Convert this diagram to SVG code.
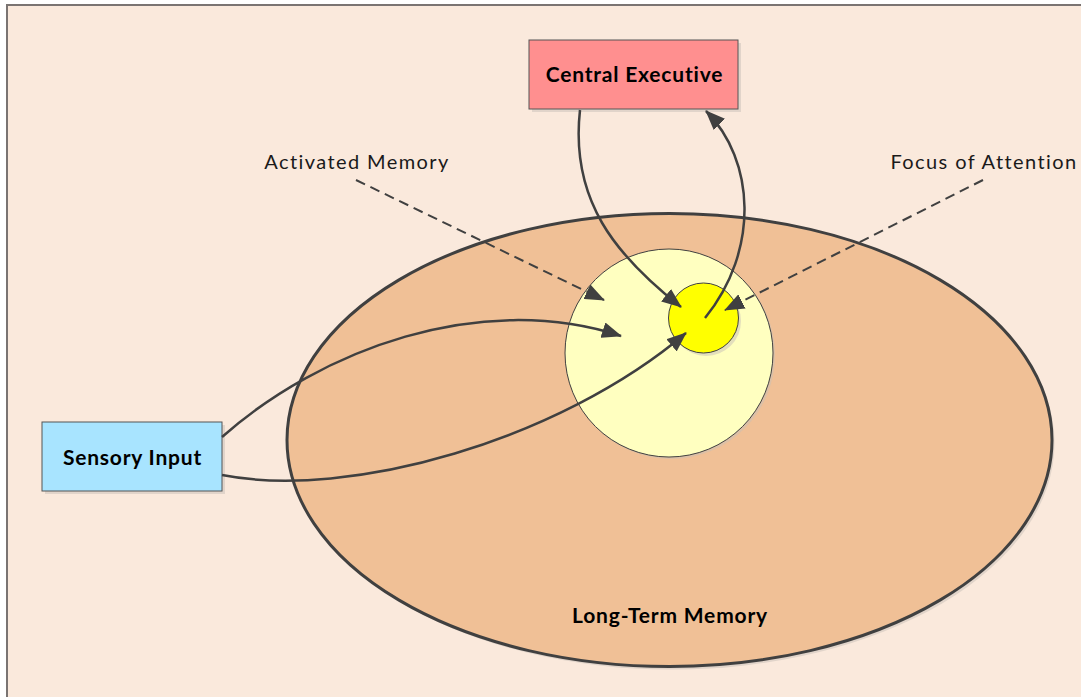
<svg xmlns="http://www.w3.org/2000/svg" width="1081" height="697" viewBox="0 0 1081 697">
  <defs>
    <marker id="arr" markerUnits="userSpaceOnUse" markerWidth="20" markerHeight="16" viewBox="0 0 20 16" refX="19" refY="8" orient="auto">
      <path d="M0,0 L20,8 L0,16 Z" fill="#404040"/>
    </marker>
  </defs>
  <style>
    .conn{fill:none;stroke:#404040;stroke-width:2.5}
    .dash{fill:none;stroke:#404040;stroke-width:2;stroke-dasharray:10 6}
    .lbl{font-family:Lato,"Liberation Sans",sans-serif;font-size:20px;letter-spacing:1.4px;fill:#1a1a1a}
    .bold{font-family:Lato,"Liberation Sans",sans-serif;font-size:21px;letter-spacing:0.8px;font-weight:bold;fill:#000}
    .shadow{fill:#c8c0b8;opacity:0.5}
  </style>
  <rect x="7" y="5" width="1080" height="700" fill="#FAE9DC" stroke="#7a7472" stroke-width="2"/>

  <g id="long-term-memory">
    <ellipse cx="672" cy="443" rx="382.5" ry="226.5" class="shadow"/>
    <ellipse cx="669.5" cy="440" rx="382.5" ry="226.5" fill="#F0C096" stroke="#404040" stroke-width="3"/>
    <text x="670" y="623" text-anchor="middle" class="bold">Long-Term Memory</text>
  </g>

  <g id="activated-memory-circle">
    <circle cx="671" cy="355" r="104" class="shadow"/>
    <circle cx="669" cy="353" r="104" fill="#FFFFC0" stroke="#404040" stroke-width="1"/>
  </g>

  <g id="focus-circle">
    <circle cx="706" cy="321" r="35" class="shadow"/>
    <circle cx="703.5" cy="318" r="35" fill="#FFFF00" stroke="#404040" stroke-width="1"/>
  </g>

  <g id="central-executive">
    <rect x="532" y="43" width="209" height="69" class="shadow"/>
    <rect x="529" y="40" width="209" height="69" fill="#FF8F8F" stroke="#555" stroke-width="1"/>
    <text x="634.5" y="82" text-anchor="middle" class="bold">Central Executive</text>
  </g>

  <g id="sensory-input">
    <rect x="45" y="425" width="180" height="69" class="shadow"/>
    <rect x="42" y="422" width="180" height="69" fill="#A8E4FF" stroke="#555" stroke-width="1"/>
    <text x="132.5" y="465" text-anchor="middle" class="bold">Sensory Input</text>
  </g>

  <g id="label-activated-memory">
    <text x="357" y="169" text-anchor="middle" class="lbl">Activated Memory</text>
  </g>
  <g id="label-focus">
    <text x="984" y="169" text-anchor="middle" class="lbl">Focus of Attention</text>
  </g>

  <g id="connectors">
    <path class="dash" d="M356,180 L604,300" marker-end="url(#arr)"/>
    <path class="dash" d="M983,180 L725,310" marker-end="url(#arr)"/>
    <path class="conn" d="M580,110 C570,200 615,255 681,307" marker-end="url(#arr)"/>
    <path class="conn" d="M705,318 C760,250 755,160 706,111" marker-end="url(#arr)"/>
    <path class="conn" d="M222,437 C320,350 480,290 621,336" marker-end="url(#arr)"/>
    <path class="conn" d="M222,475 C350,500 560,440 686,333" marker-end="url(#arr)"/>
  </g>
</svg>
